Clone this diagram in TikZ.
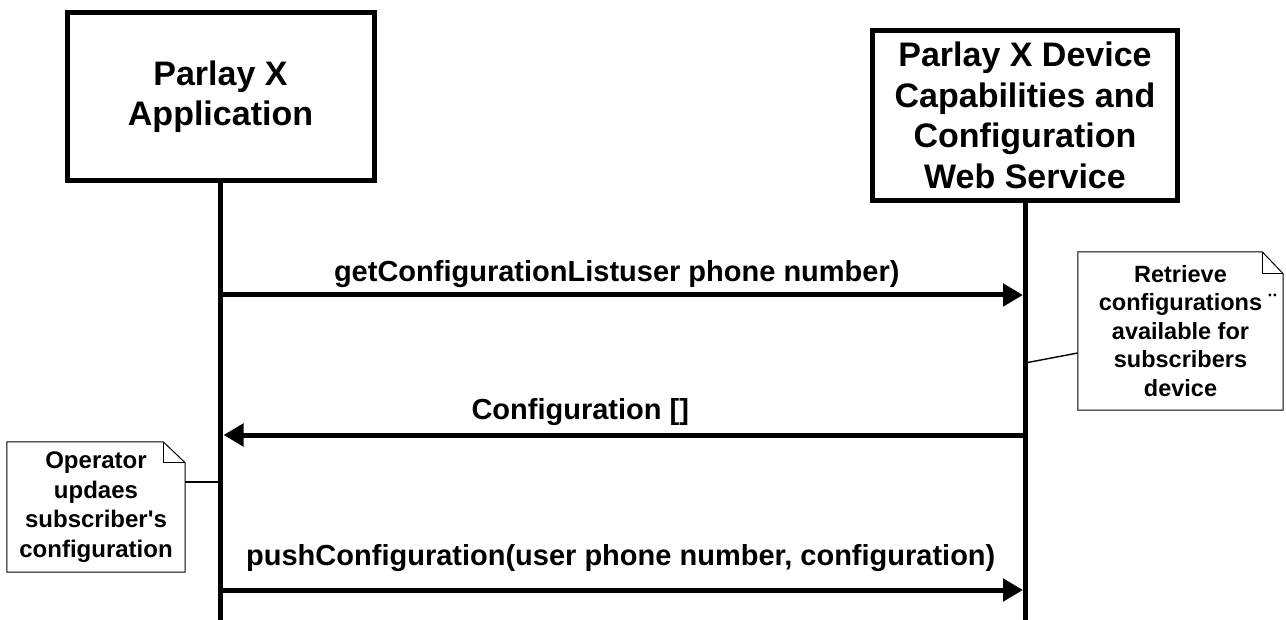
\documentclass[tikz,border=0pt]{standalone}
\usepackage{fontspec}
\setmainfont{Liberation Sans}[Ligatures=TeXOff]
\usetikzlibrary{arrows.meta, positioning}
\tikzset{
    x=1pt, y=-1pt, % one unit per pixel, y going down
    actor/.style={draw, line width=5pt, align=center, inner sep=0pt,
        font=\fontsize{34}{40.5}\selectfont\bfseries}, % the two boxes on top
    lifeline/.style={line width=5pt}, % vertical lines under the boxes
    msg/.style={line width=5pt, -{Triangle[length=20pt, width=22pt]}}, % message arrows
    msgtext/.style={anchor=base, inner sep=0pt, font=\fontsize{29}{34}\selectfont\bfseries},
    note/.style={align=center, inner sep=0pt, font=\fontsize{23.5}{28.5}\selectfont\bfseries},
    notebox/.style={line width=1pt}, % outline of a note
    notelink/.style={line width=1.4pt}, % line from a note to a lifeline
}

\begin{document}
\begin{tikzpicture}
    \useasboundingbox (0,0) rectangle (1286,620);

    % participants
    \node[actor, minimum width=307pt, minimum height=168pt] (app) at (220.5,96.5) {Parlay X\\Application};
    \node[actor, minimum width=305pt, minimum height=170pt] (svc) at (1025,115.5)
        {Parlay X Device\\Capabilities and\\Configuration\\Web Service};

    \coordinate (appEnd) at (220.5,620);
    \coordinate (svcEnd) at (1025,620);
    \draw[lifeline] (app.south) -- (appEnd);
    \draw[lifeline] (svc.south) -- (svcEnd);

    % message ends on the lifelines
    \coordinate (a1) at (220.5,295); \coordinate (s1) at (1023,295);
    \coordinate (s2) at (1025,435);  \coordinate (a2) at (223.5,435);
    \coordinate (a3) at (220.5,590); \coordinate (s3) at (1023,590);
    \coordinate (s4) at (1025,363);  \coordinate (a4) at (220.5,482);

    \draw[msg] (a1) -- node[msgtext, xshift=-5pt, yshift=13pt] {getConfigurationListuser phone number)} (s1);
    \draw[msg] (s2) -- node[msgtext, xshift=-44pt, yshift=15pt] {Configuration []} (a2);
    \draw[msg] (a3) -- node[msgtext, xshift=-1pt, yshift=25pt] {pushConfiguration(user phone number, configuration)} (s3);

    % notes
    \node[note, minimum width=205pt, minimum height=158pt] (rnote) at (1180.5,331)
        {\rule{0pt}{6pt}Retrieve\\configurations\rlap{ ¨}\\available for\\subscribers\\device};
    \draw[notebox] (rnote.north west) -- ([xshift=-21pt]rnote.north east) -- ([yshift=-22pt]rnote.north east)
        -- (rnote.south east) -- (rnote.south west) -- cycle;
    \draw[notebox] ([xshift=-21pt]rnote.north east) |- ([yshift=-22pt]rnote.north east);
    \draw[notelink] (s4) -- ([yshift=-22pt]rnote.west);

    \node[note, minimum width=178pt, minimum height=130pt, font=\fontsize{24}{29.5}\selectfont\bfseries] (lnote) at (96,507)
        {Operator\\updaes\\subscriber's\\configuration};
    \draw[notebox] (lnote.north west) -- ([xshift=-22pt]lnote.north east) -- ([yshift=-21pt]lnote.north east)
        -- (lnote.south east) -- (lnote.south west) -- cycle;
    \draw[notebox] ([xshift=-22pt]lnote.north east) |- ([yshift=-21pt]lnote.north east);
    \draw[notelink] ([yshift=25pt]lnote.east) -- (a4);
\end{tikzpicture}
\end{document}
